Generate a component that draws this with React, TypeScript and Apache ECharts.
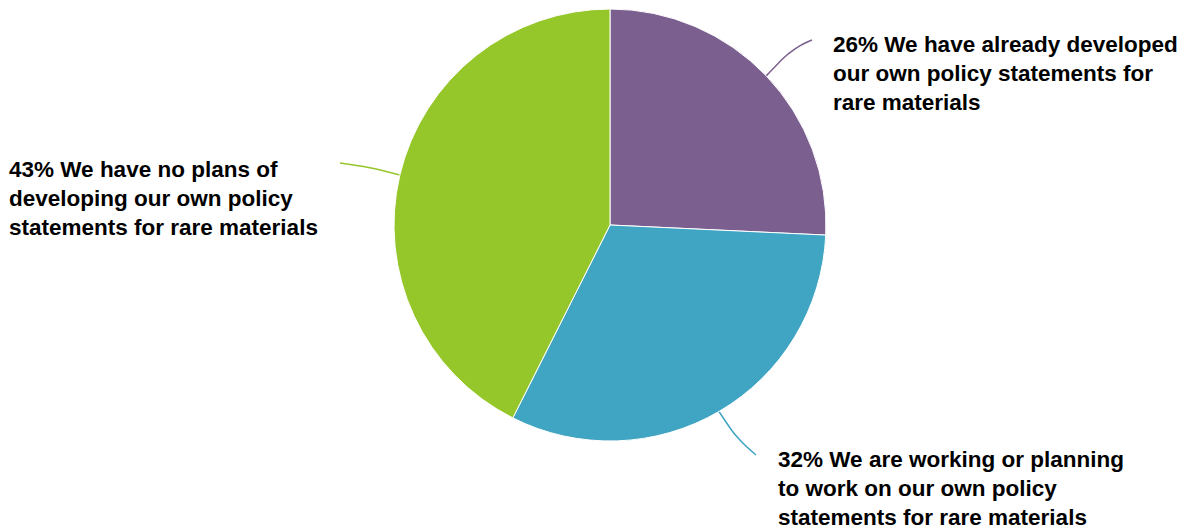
import React, { useEffect, useRef } from "react";
import * as echarts from "echarts";

const labels = [
  "We have already developed\nour own policy statements for\nrare materials",
  "We are working or planning\nto work on our own policy\nstatements for rare materials",
  "We have no plans of\ndeveloping our own policy\nstatements for rare materials",
];
const values = [26, 32, 43];
const colors = ["#7B5F8F", "#40A4C3", "#96C72A"];
const labelPos = [
  { x: 833, y: 30 },
  { x: 778, y: 445 },
  { x: 9, y: 155 },
];
// connector bend and end points
const lineMid = [
  [792, 49],
  [738, 440],
  [370, 167],
];
const lineEnd = [
  [812, 40],
  [756, 455],
  [340, 163],
];

export default function App() {
  const ref = useRef<HTMLDivElement>(null);
  useEffect(() => {
    const chart = echarts.init(ref.current!, undefined, { renderer: "svg" });
    chart.setOption({
      animation: false,
      backgroundColor: "#fff",
      series: [
        {
          type: "pie",
          center: [610, 225],
          radius: [0, 216],
          startAngle: 90,
          clockwise: true,
          data: values.map((v, i) => ({
            value: v,
            name: labels[i],
            itemStyle: { color: colors[i] },
          })),
          itemStyle: { borderColor: "#fff", borderWidth: 1 },
          label: {
            show: true,
            formatter: (p: any) => `${values[p.dataIndex]}% ${labels[p.dataIndex]}`,
            fontFamily: "'Liberation Sans', Arial, sans-serif",
            fontWeight: "bold",
            fontSize: 22.5,
            lineHeight: 29,
            color: "#000",
          },
          labelLine: { show: true, smooth: 0.4, length: 20, length2: 20, lineStyle: { width: 1.5 } },
          labelLayout: (p: any) => {
            const i = p.dataIndex;
            const start = p.labelLinePoints ? p.labelLinePoints[0] : lineMid[i];
            return {
              x: labelPos[i].x,
              y: labelPos[i].y,
              align: "left",
              verticalAlign: "top",
              labelLinePoints: [start, lineMid[i], lineEnd[i]],
            };
          },
        },
      ],
    });
    return () => chart.dispose();
  }, []);
  return (
    <div
      ref={ref}
      style={{ position: "fixed", left: 0, top: 0, width: 1185, height: 529 }}
    />
  );
}
